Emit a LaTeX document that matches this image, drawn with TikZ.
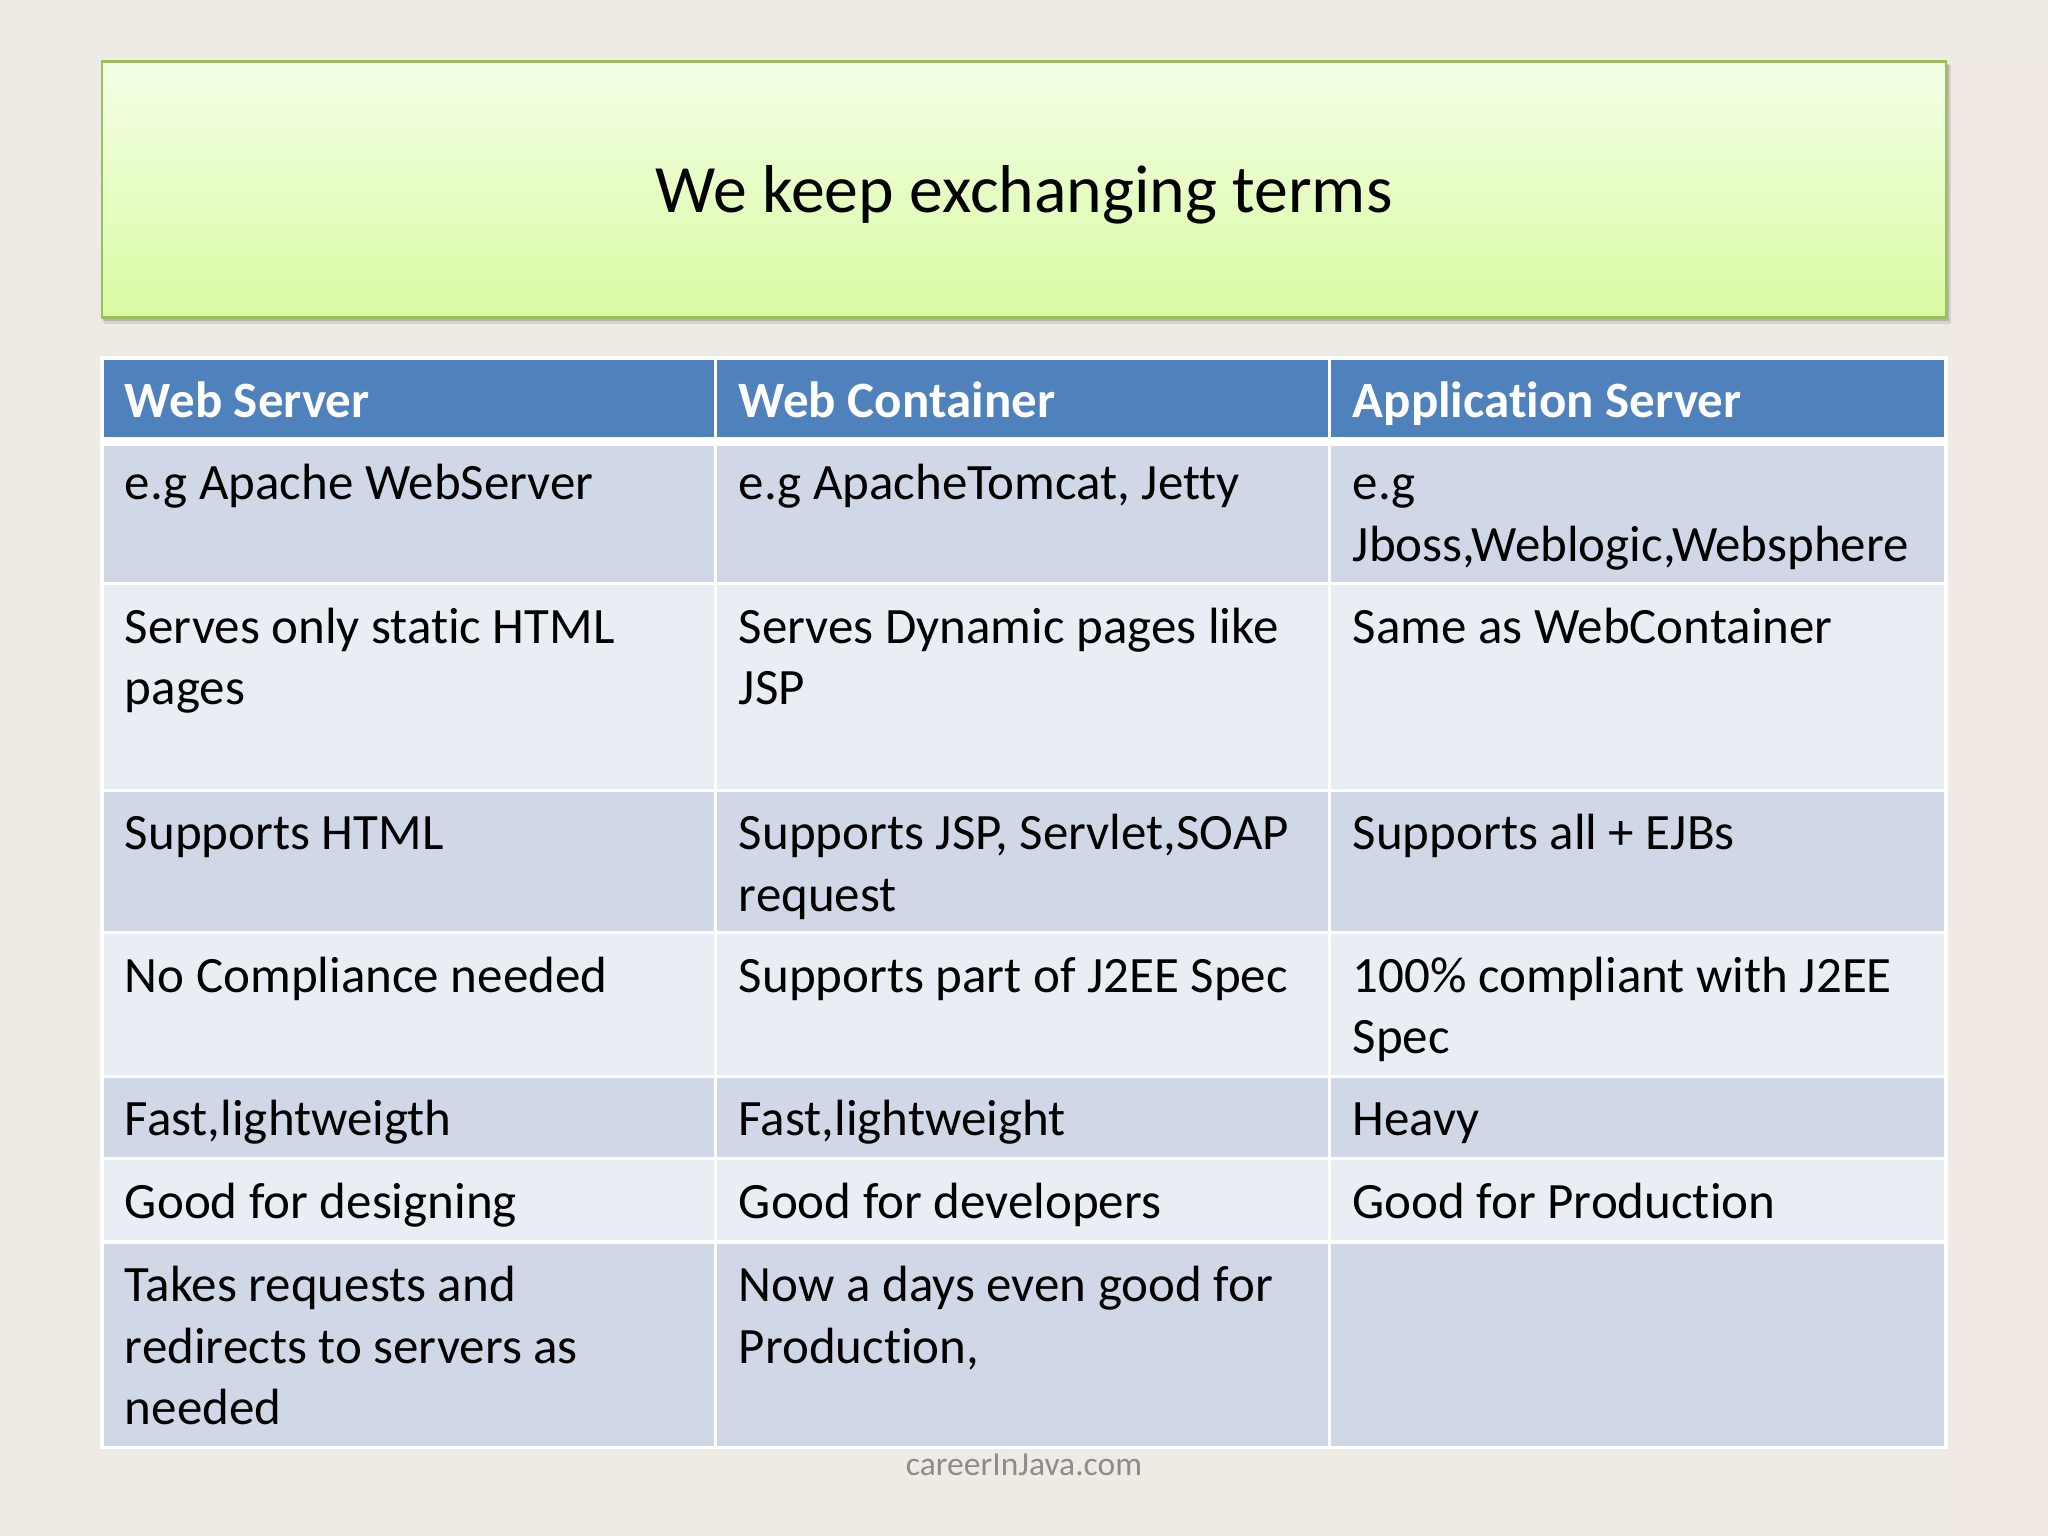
\documentclass[tikz,border=0pt]{standalone}
\usepackage{fontspec}
\setmainfont{Carlito}[Ligatures={NoCommon,NoRequired}]
\definecolor{bg}{HTML}{EEEBE4}
\definecolor{bgpink}{HTML}{F0E9E4}
\definecolor{hdr}{HTML}{4F81BD}
\definecolor{rowdark}{HTML}{D0D8E8}
\definecolor{rowlight}{HTML}{E9EDF4}
\definecolor{ttop}{HTML}{F3FEE6}
\definecolor{tbot}{HTML}{DAFBA2}
\definecolor{tborder}{HTML}{9DBD5A}
\definecolor{foot}{HTML}{8C8C8C}
\newcommand\cellfont{\fontsize{11.1}{13.37}\selectfont}
\newcommand\headfont{\fontsize{11.1}{13.37}\selectfont\bfseries}
\begin{document}
\begin{tikzpicture}[x=0.01cm,y=-0.01cm,
  cell/.style={anchor=north west,inner sep=0pt,align=left,font=\cellfont,text=black},
  headcell/.style={cell,font=\headfont,text=white},
  gridline/.style={draw=white,line width=0.025cm},
  thickline/.style={draw=white,line width=0.065cm}]
% background
\fill[bg] (0,0) rectangle (1568,1176);
\fill[bgpink] (1496,46) rectangle (1568,1176);
\useasboundingbox (0,0) rectangle (1568,1176);
% title box
\fill[black,opacity=0.10] (80,50) rectangle (1494,248);
\fill[black,opacity=0.15] (79,49) rectangle (1492,246);
\shade[top color=ttop,bottom color=tbot] (78,47) rectangle (1490,243);
\draw[tborder,line width=0.02cm] (78,47) rectangle (1490,243);
\node[anchor=base,inner sep=0pt,font=\fontsize{14.75}{17.7}\selectfont] (title) at (784,163) {We keep exchanging terms};
% table fills
\fill[hdr] (78,274) rectangle (1490,338);
\fill[rowdark] (78,338) rectangle (1490,447);
\fill[rowlight] (78,447) rectangle (1490,605);
\fill[rowdark] (78,605) rectangle (1490,714);
\fill[rowlight] (78,714) rectangle (1490,824);
\fill[rowdark] (78,824) rectangle (1490,887);
\fill[rowlight] (78,887) rectangle (1490,951);
\fill[rowdark] (78,951) rectangle (1490,1108);
% grid
\foreach \yy in {447,605,714,824,887,951} \draw[gridline] (78,\yy) -- (1490,\yy);
\draw[thickline] (78,338) -- (1490,338);
\foreach \xx in {548,1018} \draw[gridline] (\xx,274) -- (\xx,1108);
\draw[gridline] (78,274) rectangle (1490,1108);
% header
\node[headcell] (h1) at (95,286) {\strut Web Server};
\node[headcell] (h2) at (565,286) {\strut Web Container};
\node[headcell] (h3) at (1035,286) {\strut Application Server};
% row 1
\node[cell] (r1a) at (95,349) {\strut e.g Apache WebServer};
\node[cell] (r1b) at (565,349) {\strut e.g ApacheTomcat, Jetty};
\node[cell] (r1c) at (1035,349) {\strut e.g\\Jboss,Weblogic,Websphere};
% row 2
\node[cell] (r2a) at (95,459) {\strut Serves only static HTML\\pages};
\node[cell] (r2b) at (565,459) {\strut Serves Dynamic pages like\\JSP};
\node[cell] (r2c) at (1035,459) {\strut Same as WebContainer};
% row 3
\node[cell] (r3a) at (95,617) {\strut Supports HTML};
\node[cell] (r3b) at (565,617) {\strut Supports JSP, Servlet,SOAP\\request};
\node[cell] (r3c) at (1035,617) {\strut Supports all + EJBs};
% row 4
\node[cell] (r4a) at (95,726) {\strut No Compliance needed};
\node[cell] (r4b) at (565,726) {\strut Supports part of J2EE Spec};
\node[cell] (r4c) at (1035,726) {\strut 100\% compliant with J2EE\\Spec};
% row 5
\node[cell] (r5a) at (95,836) {\strut Fast,lightweigth};
\node[cell] (r5b) at (565,836) {\strut Fast,lightweight};
\node[cell] (r5c) at (1035,836) {\strut Heavy};
% row 6
\node[cell] (r6a) at (95,899) {\strut Good for designing};
\node[cell] (r6b) at (565,899) {\strut Good for developers};
\node[cell] (r6c) at (1035,899) {\strut Good for Production};
% row 7
\node[cell] (r7a) at (95,963) {\strut Takes requests and\\redirects to servers as\\needed};
\node[cell] (r7b) at (565,963) {\strut Now a days even good for\\Production,};
% footer
\node[anchor=base,inner sep=0pt,text=foot,font=\fontsize{7.3}{9}\selectfont] (foot) at (784,1130) {careerInJava.com};
\end{tikzpicture}
\end{document}
